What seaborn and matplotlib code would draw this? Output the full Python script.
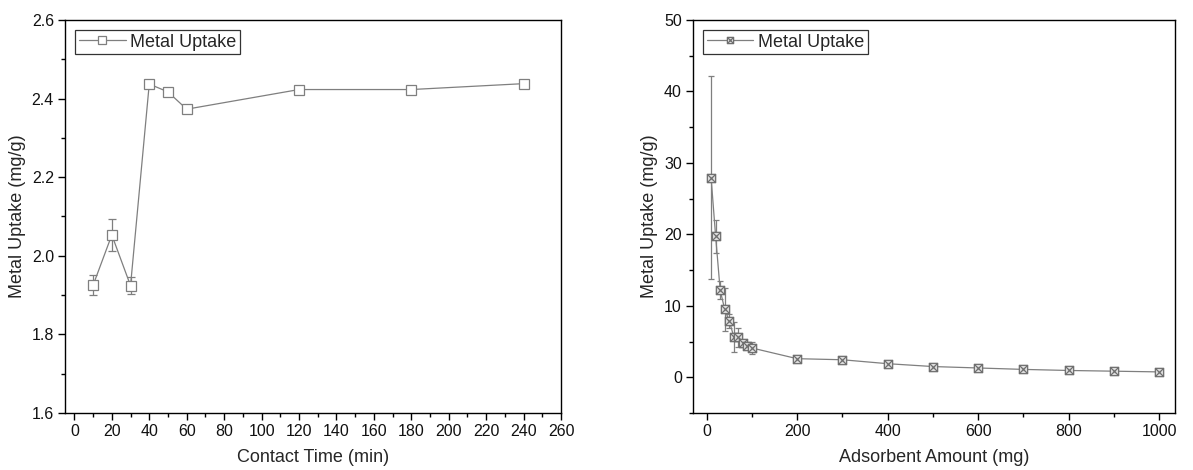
import numpy as np
import pandas as pd
import matplotlib
matplotlib.use("Agg")
import matplotlib.pyplot as plt
from matplotlib.path import Path
from matplotlib.ticker import MultipleLocator, FormatStrFormatter
import seaborn as sns

# ---- data ----
time_min = [10, 20, 30, 40, 50, 60, 120, 180, 240]
uptake_time = [1.925, 2.053, 1.924, 2.437, 2.417, 2.373, 2.423, 2.423, 2.438]
err_time = [0.025, 0.040, 0.021, 0.0, 0.0, 0.0, 0.0, 0.0, 0.0]

dose_mg = [10, 20, 30, 40, 50, 60, 70, 80, 90, 100, 200, 300, 400, 500, 600, 700, 800, 900, 1000]
uptake_dose = [27.9, 19.7, 12.2, 9.5, 7.9, 5.7, 5.6, 4.75, 4.4, 4.1, 2.6, 2.45, 1.9, 1.5, 1.3, 1.1, 0.95, 0.85, 0.75]
err_dose = [14.2, 2.3, 1.3, 3.0, 1.0, 2.1, 1.3, 0.5, 0.5, 0.8, 0.3, 0.2, 0.2, 0.1, 0.1, 0.1, 0.1, 0.1, 0.1]

series_label = "Metal Uptake"

sns.set_theme(style="ticks")
plt.rcParams['font.family'] = ['Liberation Sans', 'DejaVu Sans']
plt.rcParams['xtick.direction'] = 'out'
plt.rcParams['ytick.direction'] = 'out'

fig = plt.figure(figsize=(11.93, 4.70), dpi=100)
ax1 = fig.add_axes([0.0545, 0.1213, 0.4158, 0.8362])
ax2 = fig.add_axes([0.5809, 0.1213, 0.4040, 0.8362])

gray = '#7f7f7f'

# square-with-X marker
sq_x = Path([(-1, -1), (1, -1), (1, 1), (-1, 1), (-1, -1),
             (-1, -1), (1, 1), (-1, 1), (1, -1)],
            [Path.MOVETO, Path.LINETO, Path.LINETO, Path.LINETO, Path.CLOSEPOLY,
             Path.MOVETO, Path.LINETO, Path.MOVETO, Path.LINETO])

df1 = pd.DataFrame({"t": time_min, "q": uptake_time})
df2 = pd.DataFrame({"m": dose_mg, "q": uptake_dose})

ax1.errorbar(time_min, uptake_time, yerr=err_time, fmt='none', ecolor=gray,
             elinewidth=0.9, capsize=3, capthick=0.9, zorder=2)
sns.lineplot(data=df1, x="t", y="q", ax=ax1, color=gray, linewidth=0.9,
             marker='s', markersize=7, markerfacecolor='white',
             markeredgecolor=gray, markeredgewidth=0.9, label=series_label, zorder=3)

ax2.errorbar(dose_mg, uptake_dose, yerr=err_dose, fmt='none', ecolor=gray,
             elinewidth=0.9, capsize=2.5, capthick=0.9, zorder=2)
sns.lineplot(data=df2, x="m", y="q", ax=ax2, color=gray, linewidth=0.9,
             marker=sq_x, markersize=6, markerfacecolor='#dcdcdc',
             markeredgecolor='#6e6e6e', markeredgewidth=0.9, label=series_label, zorder=3)

ax1.set_xlim(-5, 260)
ax1.set_ylim(1.6, 2.6)
ax1.xaxis.set_major_locator(MultipleLocator(20))
ax1.xaxis.set_minor_locator(MultipleLocator(10))
ax1.yaxis.set_major_locator(MultipleLocator(0.2))
ax1.yaxis.set_minor_locator(MultipleLocator(0.1))
ax1.yaxis.set_major_formatter(FormatStrFormatter('%.1f'))
ax1.set_xlabel("Contact Time (min)", fontsize=13)
ax1.set_ylabel("Metal Uptake (mg/g)", fontsize=13)

ax2.set_xlim(-30, 1035)
ax2.set_ylim(-5, 50)
ax2.xaxis.set_major_locator(MultipleLocator(200))
ax2.xaxis.set_minor_locator(MultipleLocator(100))
ax2.yaxis.set_major_locator(MultipleLocator(10))
ax2.yaxis.set_minor_locator(MultipleLocator(5))
ax2.set_xlabel("Adsorbent Amount (mg)", fontsize=13)
ax2.set_ylabel("Metal Uptake (mg/g)", fontsize=13)

for ax in (ax1, ax2):
    for s in ax.spines.values():
        s.set_color('black')
        s.set_linewidth(1.0)
    ax.tick_params(which='major', length=5, width=1.0, color='black',
                   labelsize=11.5, labelcolor='#111111', pad=3)
    ax.tick_params(which='minor', length=3, width=1.0, color='black')
    ax.tick_params(top=False, right=False, which='both')
    ax.xaxis.labelpad = 7
    ax.yaxis.labelpad = 4
    leg = ax.legend(loc='upper left', fontsize=13, frameon=True, fancybox=False,
                    edgecolor='black', handlelength=2.6, handletextpad=0.25,
                    borderpad=0.2, borderaxespad=0.55, markerscale=0.75)
    leg.get_frame().set_linewidth(0.9)

fig.savefig("out.png", dpi=100)
